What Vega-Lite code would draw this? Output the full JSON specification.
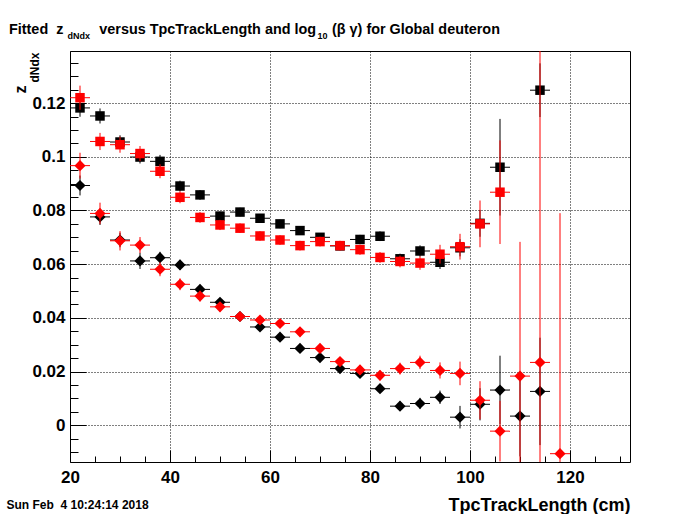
{
  "$schema": "https://vega.github.io/schema/vega-lite/v6.json",
  "width": 560,
  "height": 411,
  "autosize": "none",
  "padding": {"left": 70, "top": 51, "right": 70, "bottom": 52},
  "background": "white",
  "title": {
    "text": "Fitted\u00a0\u00a0z\u00a0\u00a0\u00a0\u00a0\u00a0\u00a0\u00a0\u00a0\u00a0versus TpcTrackLength and log\u00a0\u00a0\u00a0\u00a0(β γ) for Global deuteron",
    "anchor": "start",
    "frame": "group",
    "dx": -61,
    "offset": -17,
    "baseline": "alphabetic",
    "font": "Liberation Sans",
    "fontSize": 14.4,
    "fontWeight": "bold",
    "color": "black"
  },
  "data": {
    "values": [
      {"c": "b", "m": "sq", "x": 22, "y": 0.1182, "e": 0.0033},
      {"c": "b", "m": "sq", "x": 26, "y": 0.1152, "e": 0.0028},
      {"c": "b", "m": "sq", "x": 30, "y": 0.1055, "e": 0.0025},
      {"c": "b", "m": "sq", "x": 34, "y": 0.0999, "e": 0.0024},
      {"c": "b", "m": "sq", "x": 38, "y": 0.0983, "e": 0.0024},
      {"c": "b", "m": "sq", "x": 42, "y": 0.0891, "e": 0.0020},
      {"c": "b", "m": "sq", "x": 46, "y": 0.0858, "e": 0.0018},
      {"c": "b", "m": "sq", "x": 50, "y": 0.0779, "e": 0.0017},
      {"c": "b", "m": "sq", "x": 54, "y": 0.0794, "e": 0.0016},
      {"c": "b", "m": "sq", "x": 58, "y": 0.0771, "e": 0.0016},
      {"c": "b", "m": "sq", "x": 62, "y": 0.0750, "e": 0.0016},
      {"c": "b", "m": "sq", "x": 66, "y": 0.0725, "e": 0.0016},
      {"c": "b", "m": "sq", "x": 70, "y": 0.0700, "e": 0.0016},
      {"c": "b", "m": "sq", "x": 74, "y": 0.0668, "e": 0.0016},
      {"c": "b", "m": "sq", "x": 78, "y": 0.0692, "e": 0.0017},
      {"c": "b", "m": "sq", "x": 82, "y": 0.0704, "e": 0.0018},
      {"c": "b", "m": "sq", "x": 86, "y": 0.0620, "e": 0.0019},
      {"c": "b", "m": "sq", "x": 90, "y": 0.0649, "e": 0.0021},
      {"c": "b", "m": "sq", "x": 94, "y": 0.0607, "e": 0.0025},
      {"c": "b", "m": "sq", "x": 98, "y": 0.0661, "e": 0.0032},
      {"c": "b", "m": "sq", "x": 102, "y": 0.0752, "e": 0.0050},
      {"c": "b", "m": "sq", "x": 106, "y": 0.0961, "e": 0.0180},
      {"c": "b", "m": "sq", "x": 114, "y": 0.1248, "e": 0.0100},
      {"c": "b", "m": "di", "x": 22, "y": 0.0893, "e": 0.0037},
      {"c": "b", "m": "di", "x": 26, "y": 0.0776, "e": 0.0030},
      {"c": "b", "m": "di", "x": 30, "y": 0.0690, "e": 0.0027},
      {"c": "b", "m": "di", "x": 34, "y": 0.0612, "e": 0.0030},
      {"c": "b", "m": "di", "x": 38, "y": 0.0624, "e": 0.0022},
      {"c": "b", "m": "di", "x": 42, "y": 0.0597, "e": 0.0019},
      {"c": "b", "m": "di", "x": 46, "y": 0.0506, "e": 0.0017},
      {"c": "b", "m": "di", "x": 50, "y": 0.0458, "e": 0.0015},
      {"c": "b", "m": "di", "x": 54, "y": 0.0405, "e": 0.0014},
      {"c": "b", "m": "di", "x": 58, "y": 0.0366, "e": 0.0014},
      {"c": "b", "m": "di", "x": 62, "y": 0.0328, "e": 0.0013},
      {"c": "b", "m": "di", "x": 66, "y": 0.0286, "e": 0.0013},
      {"c": "b", "m": "di", "x": 70, "y": 0.0252, "e": 0.0013},
      {"c": "b", "m": "di", "x": 74, "y": 0.0211, "e": 0.0013},
      {"c": "b", "m": "di", "x": 78, "y": 0.0193, "e": 0.0015},
      {"c": "b", "m": "di", "x": 82, "y": 0.0136, "e": 0.0016},
      {"c": "b", "m": "di", "x": 86, "y": 0.0071, "e": 0.0018},
      {"c": "b", "m": "di", "x": 90, "y": 0.0081, "e": 0.0021},
      {"c": "b", "m": "di", "x": 94, "y": 0.0104, "e": 0.0025},
      {"c": "b", "m": "di", "x": 98, "y": 0.0030, "e": 0.0042},
      {"c": "b", "m": "di", "x": 102, "y": 0.0078, "e": 0.0060},
      {"c": "b", "m": "di", "x": 106, "y": 0.0131, "e": 0.0128},
      {"c": "b", "m": "di", "x": 110, "y": 0.0034, "e": 0.0150},
      {"c": "b", "m": "di", "x": 114, "y": 0.0126, "e": 0.0200},
      {"c": "r", "m": "sq", "x": 22, "y": 0.1220, "e": 0.0045},
      {"c": "r", "m": "sq", "x": 26, "y": 0.1057, "e": 0.0032},
      {"c": "r", "m": "sq", "x": 30, "y": 0.1045, "e": 0.0030},
      {"c": "r", "m": "sq", "x": 34, "y": 0.1012, "e": 0.0028},
      {"c": "r", "m": "sq", "x": 38, "y": 0.0946, "e": 0.0026},
      {"c": "r", "m": "sq", "x": 42, "y": 0.0849, "e": 0.0022},
      {"c": "r", "m": "sq", "x": 46, "y": 0.0774, "e": 0.0020},
      {"c": "r", "m": "sq", "x": 50, "y": 0.0746, "e": 0.0019},
      {"c": "r", "m": "sq", "x": 54, "y": 0.0734, "e": 0.0018},
      {"c": "r", "m": "sq", "x": 58, "y": 0.0705, "e": 0.0018},
      {"c": "r", "m": "sq", "x": 62, "y": 0.0690, "e": 0.0018},
      {"c": "r", "m": "sq", "x": 66, "y": 0.0669, "e": 0.0018},
      {"c": "r", "m": "sq", "x": 70, "y": 0.0684, "e": 0.0018},
      {"c": "r", "m": "sq", "x": 74, "y": 0.0669, "e": 0.0018},
      {"c": "r", "m": "sq", "x": 78, "y": 0.0654, "e": 0.0019},
      {"c": "r", "m": "sq", "x": 82, "y": 0.0625, "e": 0.0020},
      {"c": "r", "m": "sq", "x": 86, "y": 0.0610, "e": 0.0022},
      {"c": "r", "m": "sq", "x": 90, "y": 0.0604, "e": 0.0025},
      {"c": "r", "m": "sq", "x": 94, "y": 0.0637, "e": 0.0035},
      {"c": "r", "m": "sq", "x": 98, "y": 0.0665, "e": 0.0048},
      {"c": "r", "m": "sq", "x": 102, "y": 0.0750, "e": 0.0087},
      {"c": "r", "m": "sq", "x": 106, "y": 0.0868, "e": 0.0193},
      {"c": "r", "m": "di", "x": 22, "y": 0.0967, "e": 0.0048},
      {"c": "r", "m": "di", "x": 26, "y": 0.0789, "e": 0.0040},
      {"c": "r", "m": "di", "x": 30, "y": 0.0687, "e": 0.0036},
      {"c": "r", "m": "di", "x": 34, "y": 0.0671, "e": 0.0030},
      {"c": "r", "m": "di", "x": 38, "y": 0.0581, "e": 0.0026},
      {"c": "r", "m": "di", "x": 42, "y": 0.0525, "e": 0.0022},
      {"c": "r", "m": "di", "x": 46, "y": 0.0481, "e": 0.0020},
      {"c": "r", "m": "di", "x": 50, "y": 0.0441, "e": 0.0018},
      {"c": "r", "m": "di", "x": 54, "y": 0.0405, "e": 0.0017},
      {"c": "r", "m": "di", "x": 58, "y": 0.0392, "e": 0.0017},
      {"c": "r", "m": "di", "x": 62, "y": 0.0379, "e": 0.0017},
      {"c": "r", "m": "di", "x": 66, "y": 0.0348, "e": 0.0017},
      {"c": "r", "m": "di", "x": 70, "y": 0.0286, "e": 0.0017},
      {"c": "r", "m": "di", "x": 74, "y": 0.0237, "e": 0.0017},
      {"c": "r", "m": "di", "x": 78, "y": 0.0206, "e": 0.0018},
      {"c": "r", "m": "di", "x": 82, "y": 0.0186, "e": 0.0019},
      {"c": "r", "m": "di", "x": 86, "y": 0.0211, "e": 0.0022},
      {"c": "r", "m": "di", "x": 90, "y": 0.0234, "e": 0.0025},
      {"c": "r", "m": "di", "x": 94, "y": 0.0204, "e": 0.0030},
      {"c": "r", "m": "di", "x": 98, "y": 0.0193, "e": 0.0044},
      {"c": "r", "m": "di", "x": 102, "y": 0.0093, "e": 0.0071},
      {"c": "r", "m": "di", "x": 106, "y": -0.0022, "e": 0.0113},
      {"c": "r", "m": "di", "x": 110, "y": 0.0183, "e": 0.0500},
      {"c": "r", "m": "di", "x": 114, "y": 0.0234, "e": 0.2000},
      {"c": "r", "m": "di", "x": 118, "y": -0.0106, "e": 0.0896}
    ]
  },
  "layer": [
    {
      "transform": [{"filter": "datum.c == 'b'"}],
      "mark": {"type": "errorbar", "ticks": false, "color": "black", "thickness": 1},
      "encoding": {
        "x": {"field": "x", "type": "quantitative", "scale": {"domain": [20, 132], "nice": false, "zero": false}, "axis": null},
        "y": {"field": "y", "type": "quantitative", "scale": {"domain": [-0.0137, 0.1394], "nice": false, "zero": false, "clamp": true}, "axis": null},
        "yError": {"field": "e"}
      }
    },
    {
      "transform": [{"filter": "datum.c == 'b'"}],
      "mark": {"type": "tick", "orient": "horizontal", "size": 20, "thickness": 1, "color": "black", "opacity": 1},
      "encoding": {
        "x": {"field": "x", "type": "quantitative", "scale": {"domain": [20, 132], "nice": false, "zero": false}, "axis": null},
        "y": {"field": "y", "type": "quantitative", "scale": {"domain": [-0.0137, 0.1394], "nice": false, "zero": false, "clamp": true}, "axis": null}
      }
    },
    {
      "transform": [{"filter": "datum.c == 'b' && datum.m == 'sq'"}],
      "mark": {"type": "point", "shape": "square", "filled": true, "color": "black", "opacity": 1, "size": 90, "strokeWidth": 0},
      "encoding": {
        "x": {"field": "x", "type": "quantitative", "scale": {"domain": [20, 132], "nice": false, "zero": false},
          "axis": {"orient": "bottom", "values": [20, 40, 60, 80, 100, 120], "tickSize": -12, "grid": true, "gridDash": [1, 2], "gridColor": "black", "gridOpacity": 1, "gridWidth": 1,
            "labelPadding": 19, "labelFlush": false, "labelOverlap": false, "labelFontSize": 17,
            "title": "TpcTrackLength (cm)", "titleFontSize": 18, "titleX": 560, "titleY": 48, "titleAlign": "right", "titleBaseline": "alphabetic", "titleAngle": 0}},
        "y": {"field": "y", "type": "quantitative", "scale": {"domain": [-0.0137, 0.1394], "nice": false, "zero": false, "clamp": true},
          "axis": {"orient": "left", "values": [0, 0.02, 0.04, 0.06, 0.08, 0.1, 0.12], "format": "~g", "tickSize": -16, "grid": true, "gridDash": [1, 2], "gridColor": "black", "gridOpacity": 1, "gridWidth": 1,
            "labelPadding": 21, "labelFlush": false, "labelOverlap": false, "labelFontSize": 17,
            "title": "z", "titleFontSize": 16, "titleX": -45, "titleY": 42, "titleAlign": "left", "titleBaseline": "alphabetic", "titleAngle": 270}}
      }
    },
    {
      "transform": [{"filter": "datum.c == 'b' && datum.m == 'di'"}],
      "mark": {"type": "point", "shape": "diamond", "filled": true, "color": "black", "opacity": 1, "size": 125, "strokeWidth": 0},
      "encoding": {
        "x": {"field": "x", "type": "quantitative", "scale": {"domain": [20, 132], "nice": false, "zero": false},
          "axis": {"orient": "top", "domain": false, "ticks": false, "labels": false, "grid": false,
            "title": "dNdx", "titleFontSize": 9, "titleX": -3, "titleY": -13, "titleAlign": "left", "titleBaseline": "alphabetic", "titleAngle": 0}},
        "y": {"field": "y", "type": "quantitative", "scale": {"domain": [-0.0137, 0.1394], "nice": false, "zero": false, "clamp": true}, "axis": null}
      }
    },
    {
      "transform": [{"filter": "datum.c == 'r'"}],
      "mark": {"type": "errorbar", "ticks": false, "color": "#ff0000", "thickness": 1},
      "encoding": {
        "x": {"field": "x", "type": "quantitative", "scale": {"domain": [20, 132], "nice": false, "zero": false}, "axis": null},
        "y": {"field": "y", "type": "quantitative", "scale": {"domain": [-0.0137, 0.1394], "nice": false, "zero": false, "clamp": true}, "axis": null},
        "yError": {"field": "e"}
      }
    },
    {
      "transform": [{"filter": "datum.c == 'r'"}],
      "mark": {"type": "tick", "orient": "horizontal", "size": 20, "thickness": 1, "color": "#ff0000", "opacity": 1},
      "encoding": {
        "x": {"field": "x", "type": "quantitative", "scale": {"domain": [20, 132], "nice": false, "zero": false}, "axis": null},
        "y": {"field": "y", "type": "quantitative", "scale": {"domain": [-0.0137, 0.1394], "nice": false, "zero": false, "clamp": true}, "axis": null}
      }
    },
    {
      "transform": [{"filter": "datum.c == 'r' && datum.m == 'sq'"}],
      "mark": {"type": "point", "shape": "square", "filled": true, "color": "#ff0000", "opacity": 1, "size": 90, "strokeWidth": 0},
      "encoding": {
        "x": {"field": "x", "type": "quantitative", "scale": {"domain": [20, 132], "nice": false, "zero": false},
          "axis": {"orient": "bottom", "values": [25, 30, 35, 45, 50, 55, 65, 70, 75, 85, 90, 95, 105, 110, 115, 125, 130], "tickSize": -6, "labels": false, "grid": false, "domain": false,
            "title": "Sun Feb\u00a0 4 10:24:14 2018", "titleFontSize": 12, "titleX": -64, "titleY": 46, "titleAlign": "left", "titleBaseline": "alphabetic", "titleAngle": 0}},
        "y": {"field": "y", "type": "quantitative", "scale": {"domain": [-0.0137, 0.1394], "nice": false, "zero": false, "clamp": true},
          "axis": {"orient": "left", "values": [-0.01, -0.005, 0.005, 0.01, 0.015, 0.025, 0.03, 0.035, 0.045, 0.05, 0.055, 0.065, 0.07, 0.075, 0.085, 0.09, 0.095, 0.105, 0.11, 0.115, 0.125, 0.13, 0.135], "tickSize": -8, "labels": false, "grid": false, "domain": false,
            "title": "dNdx", "titleFontSize": 12, "titleX": -32, "titleY": 31, "titleAlign": "left", "titleBaseline": "alphabetic", "titleAngle": 270}}
      }
    },
    {
      "transform": [{"filter": "datum.c == 'r' && datum.m == 'di'"}],
      "mark": {"type": "point", "shape": "diamond", "filled": true, "color": "#ff0000", "opacity": 1, "size": 125, "strokeWidth": 0},
      "encoding": {
        "x": {"field": "x", "type": "quantitative", "scale": {"domain": [20, 132], "nice": false, "zero": false},
          "axis": {"orient": "top", "domain": false, "ticks": false, "labels": false, "grid": false,
            "title": "10", "titleFontSize": 9, "titleX": 247, "titleY": -13, "titleAlign": "left", "titleBaseline": "alphabetic", "titleAngle": 0}},
        "y": {"field": "y", "type": "quantitative", "scale": {"domain": [-0.0137, 0.1394], "nice": false, "zero": false, "clamp": true}, "axis": null}
      }
    }
  ],
  "resolve": {"axis": {"x": "independent", "y": "independent"}},
  "config": {
    "font": "Liberation Sans",
    "view": {"stroke": "black", "strokeWidth": 1},
    "axis": {
      "domain": false,
      "labelFont": "Liberation Sans",
      "labelFontWeight": "bold",
      "labelColor": "black",
      "tickColor": "black",
      "tickWidth": 1,
      "titleFont": "Liberation Sans",
      "titleFontWeight": "bold",
      "titleColor": "black"
    }
  }
}
